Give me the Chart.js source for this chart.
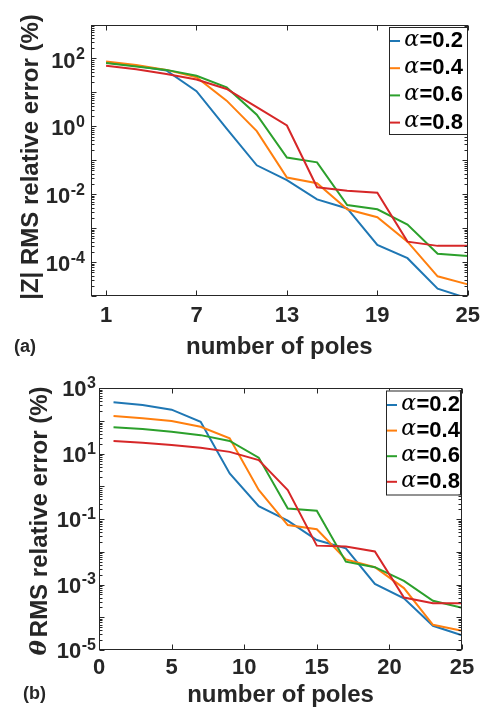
<!DOCTYPE html>
<html>
<head>
<meta charset="utf-8">
<script src="https://cdn.jsdelivr.net/npm/chart.js@4.4.1/dist/chart.umd.min.js"></script>
<style>
  html, body { margin: 0; padding: 0; background: #fff; }
  #wrap { position: relative; width: 487px; height: 711px; }
  .box { position: absolute; left: 0; width: 487px; }
</style>
</head>
<body>
<div id="wrap">
  <div class="box" style="top:0;height:360px"><canvas id="chartA"></canvas></div>
  <div class="box" style="top:360px;height:351px"><canvas id="chartB"></canvas></div>
</div>
<script>
// data (odd pole counts)
var poles = [1, 3, 5, 7, 9, 11, 13, 15, 17, 19, 21, 23, 25];
var alphaLabels = ["0.2", "0.4", "0.6", "0.8"];
var seriesColors = ["#1f77b4", "#ff7f0e", "#2ca02c", "#d62728"];

// (a) |Z| RMS relative error (%)
var magErr02 = [76, 61, 44, 10.8, 0.85, 0.071, 0.026, 0.007, 0.0038, 3.2e-4, 1.3e-4, 1.65e-5, 8.5e-6];
var magErr04 = [81, 64, 46, 28, 5.7, 0.72, 0.031, 0.021, 0.0036, 0.0021, 4.0e-4, 3.8e-5, 2.2e-5];
var magErr06 = [73, 58, 46, 31, 14, 2.2, 0.12, 0.087, 0.0048, 0.0036, 0.00127, 1.75e-4, 1.5e-4];
var magErr08 = [61, 48, 35, 24, 12.6, 3.7, 1.06, 0.016, 0.0126, 0.011, 4.0e-4, 3.0e-4, 3.0e-4];

// (b) theta RMS relative error (%)
var phaseErr02 = [373, 309, 222, 95, 2.5, 0.25, 0.09, 0.023, 0.0128, 0.00105, 3.8e-4, 5.5e-5, 2.8e-5];
var phaseErr04 = [142, 121, 100, 67, 29.5, 0.78, 0.066, 0.049, 0.0059, 0.0034, 7.8e-4, 5.9e-5, 3.9e-5];
var phaseErr06 = [65, 57, 47, 37, 24.5, 7.6, 0.21, 0.18, 0.005, 0.0034, 0.0013, 3.2e-4, 1.95e-4];
var phaseErr08 = [24.5, 21.7, 18.6, 15.2, 11.4, 6.4, 0.78, 0.0155, 0.0145, 0.0103, 4.0e-4, 2.7e-4, 2.7e-4];

var xTicksA = [1, 7, 13, 19, 25];
var xTicksB = [0, 5, 10, 15, 20, 25];
var yTicksA = [1e-4, 1e-2, 1, 1e2];
var yTicksB = [1e-5, 1e-3, 1e-1, 1e1, 1e3];

var SANS = '"Liberation Sans", Arial, sans-serif';
var SERIF = '"DejaVu Serif", "Liberation Serif", serif';
var INK = "#262626";

// box, inward ticks, y labels with exponents, titles, legend
var matlabAxes = {
  id: "matlabAxes",
  afterDraw: function (chart, args, o) {
    var ctx = chart.ctx;
    var a = chart.chartArea;
    var xs = chart.scales.x;
    var ys = chart.scales.y;
    var L = Math.round(a.left) + 0.5, R = Math.round(a.right) - 0.5;
    var T = Math.round(a.top) + 0.5, B = Math.round(a.bottom) - 0.5;

    ctx.save();
    ctx.strokeStyle = INK;
    ctx.lineWidth = 1;
    ctx.beginPath();
    o.xTicks.forEach(function (v) {
      var px = Math.round(xs.getPixelForValue(v)) + 0.5;
      ctx.moveTo(px, B); ctx.lineTo(px, B - 5);
      ctx.moveTo(px, T); ctx.lineTo(px, T + 5);
    });
    for (var e = -5; e <= 3; e++) {
      for (var m = 1; m < 10; m++) {
        if (e === 3 && m > 1) break;
        var py = Math.round(ys.getPixelForValue(m * Math.pow(10, e))) + 0.5;
        var len = m === 1 ? 5 : 3;
        ctx.moveTo(L, py); ctx.lineTo(L + len, py);
        ctx.moveTo(R, py); ctx.lineTo(R - len, py);
      }
    }
    ctx.stroke();
    ctx.strokeRect(L, T, R - L, B - T);

    // y tick labels 10^n
    ctx.fillStyle = INK;
    ctx.textAlign = "right";
    ctx.textBaseline = "middle";
    o.yTicks.forEach(function (v) {
      var ex = String(Math.round(Math.log10(v)));
      var py = ys.getPixelForValue(v);
      ctx.font = "bold 16px " + SANS;
      var ws = ctx.measureText(ex).width;
      ctx.fillText(ex, o.yLabRight, py + o.yLabDy - 6.5);
      ctx.font = "bold 22px " + SANS;
      ctx.fillText("10", o.yLabRight - ws - 0.5, py + o.yLabDy);
    });

    // y axis title (rotated, mixed fonts)
    ctx.save();
    ctx.translate(o.yTitleX, o.yTitleY);
    ctx.rotate(-Math.PI / 2);
    ctx.textAlign = "left";
    var total = 0;
    o.yTitle.forEach(function (p) {
      ctx.font = p.font;
      p.w = ctx.measureText(p.text).width + (p.gap || 0);
      total += p.w;
    });
    var cx = -total / 2;
    o.yTitle.forEach(function (p) {
      ctx.font = p.font;
      ctx.fillText(p.text, cx, 0);
      cx += p.w;
    });
    ctx.restore();

    // x axis title and panel tag
    ctx.textAlign = "center";
    ctx.font = "bold 24px " + SANS;
    ctx.fillText("number of poles", (a.left + a.right) / 2, o.xTitleY);
    ctx.textAlign = "left";
    ctx.font = "bold 18px " + SANS;
    ctx.fillText(o.tag, o.tagX, o.tagY);

    // legend
    var lg = o.legend;
    ctx.fillStyle = "#fff";
    ctx.fillRect(lg.x, lg.y, lg.w, lg.h);
    ctx.strokeStyle = INK;
    ctx.strokeRect(lg.x + 0.5, lg.y + 0.5, lg.w, lg.h);
    chart.data.datasets.forEach(function (ds, i) {
      var ry = lg.row0 + i * lg.step;
      ctx.strokeStyle = ds.borderColor;
      ctx.lineWidth = 2;
      ctx.beginPath();
      ctx.moveTo(lg.x + 1, ry); ctx.lineTo(lg.x + 11, ry);
      ctx.stroke();
      ctx.fillStyle = "#000";
      ctx.textBaseline = "middle";
      ctx.font = "italic 22px " + SERIF;
      var wa = ctx.measureText("\u03b1").width;
      ctx.fillText("\u03b1", lg.textX - wa - 0.5, ry - 1);
      ctx.font = "bold 22px " + SANS;
      ctx.fillText("=" + alphaLabels[i], lg.textX, ry);
    });
    ctx.restore();
  },
};

function makeChart(canvasId, series, cfg) {
  return new Chart(document.getElementById(canvasId), {
    type: "line",
    data: {
      datasets: series.map(function (vals, i) {
        return {
          label: "\u03b1=" + alphaLabels[i],
          data: poles.map(function (p, k) {
            return { x: p, y: vals[k] };
          }),
          borderColor: seriesColors[i],
          backgroundColor: seriesColors[i],
          borderWidth: 2,
          pointRadius: 0,
          tension: 0,
          order: 4 - i,
        };
      }),
    },
    options: {
      responsive: true,
      maintainAspectRatio: false,
      animation: false,
      events: [],
      layout: { padding: { top: cfg.top, right: cfg.right, left: 0, bottom: 0 } },
      plugins: {
        legend: { display: false },
        tooltip: { enabled: false },
        matlabAxes: cfg,
      },
      scales: {
        x: {
          type: "linear",
          min: 0,
          max: 25,
          grid: { display: false, drawTicks: false },
          border: { display: false },
          afterBuildTicks: function (s) {
            s.ticks = cfg.xTicks.map(function (v) { return { value: v }; });
          },
          afterFit: function (s) { s.height = cfg.xHeight; },
          ticks: {
            color: INK,
            padding: cfg.xPad,
            maxRotation: 0,
            autoSkip: false,
            font: { family: SANS, size: 22, weight: "bold" },
          },
        },
        y: {
          type: "logarithmic",
          min: 1e-5,
          max: 1e3,
          grid: { display: false, drawTicks: false },
          border: { display: false },
          ticks: { display: false },
          afterFit: function (s) { s.width = cfg.left; },
        },
      },
    },
    plugins: [matlabAxes],
  });
}

makeChart("chartA", [magErr02, magErr04, magErr06, magErr08], {
  top: 24.5, right: 18, left: 91, xHeight: 64, xPad: 7,
  xTicks: xTicksA, yTicks: yTicksA, yLabRight: 85, yLabDy: 3,
  yTitleX: 31, yTitleY: 157,
  yTitle: [{ text: "|Z| RMS relative error (%)", font: "bold 24px " + SANS }],
  xTitleY: 347, tag: "(a)", tagX: 14, tagY: 347.5,
  legend: { x: 389, y: 27, w: 78, h: 107, row0: 41, step: 27.2, textX: 419.5 },
});

makeChart("chartB", [phaseErr02, phaseErr04, phaseErr06, phaseErr08], {
  top: 28.3, right: 25, left: 99, xHeight: 61, xPad: 5,
  xTicks: xTicksB, yTicks: yTicksB, yLabRight: 96, yLabDy: 2,
  yTitleX: 40, yTitleY: 161,
  yTitle: [
    { text: "\u03b8", font: "italic bold 23px " + SERIF, gap: 3 },
    { text: "RMS relative error (%)", font: "bold 24px " + SANS },
  ],
  xTitleY: 335.7, tag: "(b)", tagX: 23, tagY: 334,
  legend: { x: 386, y: 30.5, w: 74, h: 104, row0: 45, step: 25.6, textX: 416.5 },
});
</script>
</body>
</html>
